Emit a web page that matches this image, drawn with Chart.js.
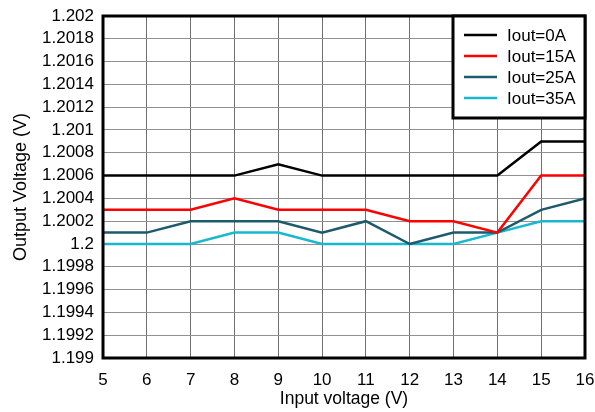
<!DOCTYPE html>
<html>
<head>
<meta charset="utf-8">
<script src="https://cdn.jsdelivr.net/npm/chart.js@4/dist/chart.umd.min.js"></script>
<style>
html,body{margin:0;padding:0;background:#fff;}
#wrap{width:595px;height:412px;}
</style>
</head>
<body>
<div id="wrap"><canvas id="c" width="595" height="412"></canvas></div>
<script>
const inputVoltage = [5, 6, 7, 8, 9, 10, 11, 12, 13, 14, 15, 16];
const iout0A  = [1.2006, 1.2006, 1.2006, 1.2006, 1.2007, 1.2006, 1.2006, 1.2006, 1.2006, 1.2006, 1.2009, 1.2009];
const iout15A = [1.2003, 1.2003, 1.2003, 1.2004, 1.2003, 1.2003, 1.2003, 1.2002, 1.2002, 1.2001, 1.2006, 1.2006];
const iout25A = [1.2001, 1.2001, 1.2002, 1.2002, 1.2002, 1.2001, 1.2002, 1.2000, 1.2001, 1.2001, 1.2003, 1.2004];
const iout35A = [1.2000, 1.2000, 1.2000, 1.2001, 1.2001, 1.2000, 1.2000, 1.2000, 1.2000, 1.2001, 1.2002, 1.2002];
const seriesNames = ['Iout=0A', 'Iout=15A', 'Iout=25A', 'Iout=35A'];
const seriesColors = ['#000000', '#ff0000', '#1c5a6c', '#1ab8cf'];
const yMin = 1.199, yMax = 1.202, yStep = 0.0002;
const xMin = 5, xMax = 16, xStep = 1;
const xTitle = 'Input voltage (V)';
const yTitle = 'Output Voltage (V)';

const FONT = 'Arial, "Liberation Sans", sans-serif';
const allSeries = [iout0A, iout15A, iout25A, iout35A];
const datasets = allSeries.map((arr, i) => ({
  label: seriesNames[i],
  data: arr.map((v, j) => ({x: inputVoltage[j], y: v})),
  borderColor: seriesColors[i],
  backgroundColor: seriesColors[i],
  borderWidth: 2.5,
  pointRadius: 0,
  tension: 0,
  fill: false
}));

const framePlugin = {
  id: 'frame',
  afterDraw(chart) {
    const ctx = chart.ctx, a = chart.chartArea;
    ctx.save();
    ctx.strokeStyle = '#000';
    ctx.lineWidth = 3;
    ctx.strokeRect(a.left, a.top, a.right - a.left, a.bottom - a.top);
    // legend box
    const lx = 453, ly = a.top, lw = a.right - 453, lh = 102;
    ctx.fillStyle = '#fff';
    ctx.fillRect(lx, ly, lw, lh);
    ctx.lineWidth = 3;
    ctx.strokeRect(lx, ly, lw, lh);
    ctx.font = '17px ' + FONT;
    ctx.textBaseline = 'middle';
    ctx.textAlign = 'left';
    chart.data.datasets.forEach((ds, i) => {
      const y = 35 + i * 21;
      ctx.strokeStyle = ds.borderColor;
      ctx.lineWidth = 2.5;
      ctx.beginPath();
      ctx.moveTo(464, y);
      ctx.lineTo(497, y);
      ctx.stroke();
      ctx.fillStyle = '#000';
      ctx.fillText(ds.label, 507, y + 1);
    });
    ctx.restore();
  }
};

new Chart(document.getElementById('c'), {
  type: 'line',
  data: {datasets},
  plugins: [framePlugin],
  options: {
    responsive: false,
    animation: false,
    devicePixelRatio: 1,
    layout: {padding: {left: 0, right: 10, top: 16, bottom: 0}},
    plugins: {legend: {display: false}, tooltip: {enabled: false}},
    scales: {
      x: {
        type: 'linear',
        min: xMin, max: xMax,
        afterFit(s) { s.height = 54; s.paddingLeft = 0; s.paddingRight = 0; },
        ticks: {stepSize: xStep, autoSkip: false, color: '#000', font: {family: FONT, size: 17}, padding: 12, maxRotation: 0},
        grid: {color: '#707070', lineWidth: 1, drawTicks: false},
        border: {display: false},
        title: {display: true, text: xTitle, color: '#000', font: {family: FONT, size: 17.5}, padding: {top: 0, bottom: 2}}
      },
      y: {
        type: 'linear',
        min: yMin, max: yMax,
        afterFit(s) { s.width = 103; s.paddingTop = 0; s.paddingBottom = 0; },
        afterBuildTicks(s) {
          const t = [];
          const n = Math.round((yMax - yMin) / yStep);
          for (let i = 0; i <= n; i++) t.push({value: +(yMin + i * yStep).toFixed(4)});
          s.ticks = t;
        },
        ticks: {
          autoSkip: false,
          color: '#000', font: {family: FONT, size: 17}, padding: 9,
          callback: v => String(parseFloat(Number(v).toFixed(4)))
        },
        grid: {color: '#909090', lineWidth: 1, drawTicks: false},
        border: {display: false},
        title: {display: true, text: yTitle, color: '#000', font: {family: FONT, size: 18}, padding: {top: 10, bottom: 0}}
      }
    }
  }
});
</script>
</body>
</html>
